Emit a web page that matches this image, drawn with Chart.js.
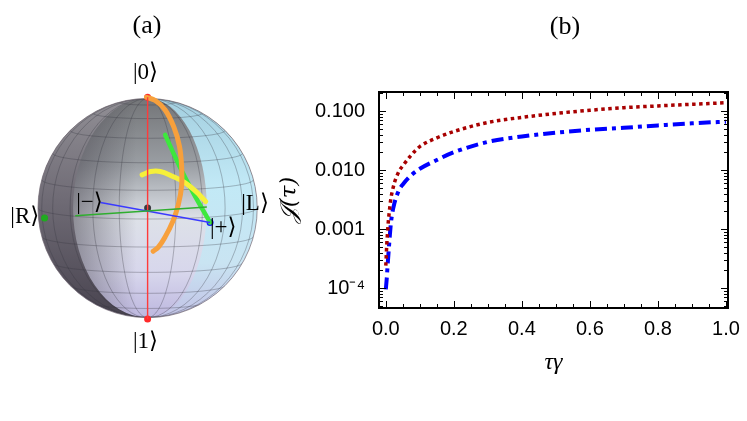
<!DOCTYPE html>
<html>
<head>
<meta charset="utf-8">
<script src="https://cdn.jsdelivr.net/npm/chart.js@4.4.1/dist/chart.umd.min.js"></script>
<style>
  html, body { margin: 0; padding: 0; background: #fff; }
  #wrap { position: relative; width: 747px; height: 421px; overflow: hidden; }
  #sphereCanvas { position: absolute; left: 0; top: 0; }
  #fisherCanvas { position: absolute; left: 270px; top: 0; }
</style>
</head>
<body>
<div id="wrap">
  <canvas id="sphereCanvas" width="270" height="421"></canvas>
  <canvas id="fisherCanvas" width="477" height="421"></canvas>
</div>
<script>
// Datos del panel (b): tiempo adimensional y las dos curvas.
var tauGamma = [0, 0.003, 0.005, 0.007, 0.01, 0.012, 0.015, 0.02, 0.025, 0.03, 0.04, 0.05,
                0.075, 0.1, 0.15, 0.2, 0.3, 0.4, 0.5, 0.6, 0.7, 0.8, 0.9, 1.0];
var fisherRed = [2.4e-4, 5.7e-4, 8.5e-4, 1.26e-3, 1.9e-3, 2.4e-3, 3.3e-3, 4.6e-3, 6.0e-3, 7.3e-3, 9.8e-3, 0.0118,
                 0.018, 0.025, 0.035, 0.045, 0.064, 0.078, 0.091, 0.103, 0.114, 0.122, 0.130, 0.138];
var fisherBlue = [9.5e-5, 1.5e-4, 2.3e-4, 3.3e-4, 5.7e-4, 8.0e-4, 1.26e-3, 2.0e-3, 2.7e-3, 3.4e-3, 4.7e-3, 5.7e-3,
                  8.2e-3, 0.0105, 0.0148, 0.020, 0.030, 0.037, 0.043, 0.048, 0.052, 0.057, 0.062, 0.066];

// Marcas de los ejes.
var xTicks = [0, 0.2, 0.4, 0.6, 0.8, 1.0];
var xTickLabels = ['0.0', '0.2', '0.4', '0.6', '0.8', '1.0'];
var yTicks = [1e-4, 1e-3, 1e-2, 1e-1];
var yTickLabels = ['10\u207B\u2074', '0.001', '0.010', '0.100'];

// Datos del panel (a): trayectorias en la esfera proyectada (radio 1).
var orangeU = [-0.01, 0.07, 0.16, 0.24, 0.29, 0.31, 0.31, 0.28, 0.23, 0.16, 0.10, 0.05];
var orangeV = [1.00, 0.97, 0.885, 0.73, 0.56, 0.38, 0.20, 0.03, -0.12, -0.26, -0.35, -0.39];
var yellowU = [-0.05, 0.03, 0.115, 0.22, 0.34, 0.44, 0.53];
var yellowV = [0.30, 0.33, 0.33, 0.29, 0.23, 0.15, 0.06];
var greenU = [0.16, 0.29, 0.42, 0.57];
var greenV = [0.66, 0.38, 0.13, -0.13];
var axisZU = [0, 0], axisZV = [1, -1];
var axisXU = [-0.43, 0.57], axisXV = [0.05, -0.13];
var axisYU = [-0.66, 0.54], axisYV = [-0.07, 0.01];
var ketNames = ['|0\u27E9', '|1\u27E9', '|R\u27E9', '|L\u27E9', '|\u2212\u27E9', '|+\u27E9'];
var ketU = [-0.02, -0.02, -1.12, 0.98, -0.53, 0.69];
var ketV = [1.22, -1.21, -0.08, 0.04, 0.05, -0.18];

function pares(us, vs) {
  return us.map(function(u, i) { return { x: u, y: vs[i] }; });
}

//Dibuja la esfera de Bloch (fondo) usando las escalas del gráfico.
var spherePlugin = {
  id: 'sphere',
  beforeDatasetsDraw: function(chart) {
    var ctx = chart.ctx;
    var sx = chart.scales.x, sy = chart.scales.y;
    var cx = sx.getPixelForValue(0), cy = sy.getPixelForValue(0);
    var R = sx.getPixelForValue(1) - cx;
    var PI = Math.PI;
    ctx.save();
    ctx.beginPath();
    ctx.arc(cx, cy, R, 0, 2 * PI);
    ctx.clip();

    // interior
    var g = ctx.createLinearGradient(0, cy - R, 0, cy + R);
    g.addColorStop(0, '#737578');
    g.addColorStop(0.3, '#9a9ea3');
    g.addColorStop(0.55, '#dde1e8');
    g.addColorStop(0.8, '#d7d6ec');
    g.addColorStop(1, '#bdb7df');
    ctx.fillStyle = g;
    ctx.fillRect(cx - R, cy - R, 2 * R, 2 * R);
    var gh = ctx.createLinearGradient(cx - 0.7 * R, 0, cx - 0.1 * R, 0);
    gh.addColorStop(0, 'rgba(60,56,66,0.5)');
    gh.addColorStop(1, 'rgba(60,56,66,0)');
    ctx.fillStyle = gh;
    ctx.fillRect(cx - R, cy - R, R, 2 * R);

    // casquete izquierdo (oscuro)
    ctx.beginPath();
    ctx.ellipse(cx, cy, R, R, 0, -PI / 2, PI / 2, true);
    ctx.ellipse(cx, cy, 0.68 * R, R, 0, PI / 2, -PI / 2, false);
    ctx.closePath();
    var gl = ctx.createLinearGradient(0, cy - R, 0, cy + R);
    gl.addColorStop(0, '#918f95');
    gl.addColorStop(0.45, '#706c76');
    gl.addColorStop(1, '#48434f');
    ctx.fillStyle = gl;
    ctx.fill();

    // casquete derecho (celeste)
    ctx.beginPath();
    ctx.ellipse(cx, cy, R, R, 0, -PI / 2, PI / 2, false);
    ctx.ellipse(cx, cy, 0.54 * R, R, 0, PI / 2, -PI / 2, true);
    ctx.closePath();
    var gr = ctx.createLinearGradient(0, cy - R, 0, cy + R);
    gr.addColorStop(0, '#a3cfe0');
    gr.addColorStop(0.4, '#c2e9f6');
    gr.addColorStop(0.75, '#c9e4f2');
    gr.addColorStop(1, '#c2c2e6');
    ctx.fillStyle = gr;
    ctx.fill();

    // malla
    ctx.strokeStyle = 'rgba(55,55,65,0.45)';
    ctx.lineWidth = 0.7;
    for (var k = 1; k < 6; k++) {
      ctx.beginPath();
      ctx.ellipse(cx, cy, R * Math.sin(k * PI / 12), R, 0, 0, 2 * PI);
      ctx.stroke();
    }
    for (var j = -5; j <= 5; j++) {
      var phi = j * PI / 12;
      var rx = R * Math.cos(phi);
      ctx.beginPath();
      ctx.ellipse(cx, cy - R * Math.sin(phi), rx, rx * 0.1, 0, 0, PI);
      ctx.stroke();
    }
    ctx.restore();

    ctx.save();
    ctx.strokeStyle = 'rgba(120,110,120,0.7)';
    ctx.lineWidth = 1;
    ctx.beginPath();
    ctx.arc(cx, cy, R, 0, 2 * PI);
    ctx.stroke();
    ctx.restore();
  },
  afterDraw: function(chart) {
    var ctx = chart.ctx;
    var sx = chart.scales.x, sy = chart.scales.y;
    ctx.save();
    ctx.fillStyle = '#000';
    ctx.textAlign = 'center';
    ctx.textBaseline = 'middle';
    ctx.font = '23px "Liberation Serif", "DejaVu Serif", serif';
    ketNames.forEach(function(name, i) {
      ctx.fillText(name, sx.getPixelForValue(ketU[i]), sy.getPixelForValue(ketV[i]));
    });
    ctx.font = '26px "Liberation Serif", serif';
    ctx.fillText('(a)', 147, 26);
    ctx.restore();
  }
};

var sphereChart = new Chart(document.getElementById('sphereCanvas').getContext('2d'), {
  type: 'scatter',
  data: {
    datasets: [
      { data: pares(axisYU, axisYV), showLine: true, borderColor: '#2fae2f', borderWidth: 1.4, pointRadius: 0 },
      { data: pares(axisXU, axisXV), showLine: true, borderColor: '#3a3aff', borderWidth: 1.4, pointRadius: 0 },
      { data: pares(axisZU, axisZV), showLine: true, borderColor: '#ff3a3a', borderWidth: 1.4, pointRadius: 0 },
      { data: pares(orangeU, orangeV), showLine: true, borderColor: '#f7a03c', borderWidth: 5, pointRadius: 0,
        tension: 0.4, borderCapStyle: 'round' },
      { data: pares(yellowU, yellowV), showLine: true, borderColor: '#f6f03a', borderWidth: 5, pointRadius: 0,
        tension: 0.4, borderCapStyle: 'round' },
      { data: pares(greenU, greenV), showLine: true, borderColor: '#3de83d', borderWidth: 4.5, pointRadius: 0,
        tension: 0.3, borderCapStyle: 'round' },
      { data: pares(axisZU, axisZV), showLine: false, pointRadius: 3.5, pointBackgroundColor: '#ff2a2a', pointBorderWidth: 0 },
      { data: pares([axisXU[1]], [axisXV[1]]), showLine: false, pointRadius: 3.5, pointBackgroundColor: '#1a1aff', pointBorderWidth: 0 },
      { data: pares([-0.94], [-0.09]), showLine: false, pointRadius: 3.5, pointBackgroundColor: '#1faa1f', pointBorderWidth: 0 },
      { data: pares([0], [0]), showLine: false, pointRadius: 3.5, pointBackgroundColor: '#3a3a3e', pointBorderWidth: 0 }
    ]
  },
  options: {
    responsive: false,
    animation: false,
    layout: { padding: 0 },
    plugins: { legend: { display: false }, tooltip: { enabled: false } },
    scales: {
      x: { type: 'linear', display: false, min: -1.31, max: 1.080 },
      y: { type: 'linear', display: false, min: -1.885, max: 1.841 }
    }
  },
  plugins: [spherePlugin]
});

//Marco y marcas hacia dentro, estilo Mathematica.
var framePlugin = {
  id: 'frame',
  afterDraw: function(chart) {
    var ctx = chart.ctx;
    var a = chart.chartArea;
    var sx = chart.scales.x, sy = chart.scales.y;
    ctx.save();
    ctx.strokeStyle = '#000';
    ctx.lineWidth = 1;
    function tickX(v, len) {
      var px = Math.round(sx.getPixelForValue(v)) + 0.5;
      ctx.beginPath();
      ctx.moveTo(px, a.bottom); ctx.lineTo(px, a.bottom - len);
      ctx.moveTo(px, a.top); ctx.lineTo(px, a.top + len);
      ctx.stroke();
    }
    function tickY(v, len) {
      var py = Math.round(sy.getPixelForValue(v)) + 0.5;
      ctx.beginPath();
      ctx.moveTo(a.left, py); ctx.lineTo(a.left + len, py);
      ctx.moveTo(a.right, py); ctx.lineTo(a.right - len, py);
      ctx.stroke();
    }
    for (var i = 0; i <= 20; i++) {
      var v = i * 0.05;
      tickX(v, i % 4 === 0 ? 7 : 4);
    }
    for (var d = -5; d <= -1; d++) {
      for (var m = 1; m <= 9; m++) {
        var y = m * Math.pow(10, d);
        if (y < sy.min || y > sy.max) continue;
        tickY(y, m === 1 ? 7 : 4);
      }
    }
    ctx.lineWidth = 2;
    ctx.strokeRect(a.left, a.top, a.right - a.left, a.bottom - a.top);
    ctx.fillStyle = '#000';
    ctx.textAlign = 'center';
    ctx.textBaseline = 'middle';
    ctx.font = '26px "Liberation Serif", serif';
    ctx.fillText('(b)', 565 - 270, 27);
    // titulo del eje vertical
    ctx.translate(290 - 270, (a.top + a.bottom) / 2);
    ctx.rotate(-Math.PI / 2);
    ctx.font = 'italic 23px "DejaVu Serif", "Liberation Serif", serif';
    ctx.fillText('\uD835\uDCA5(\u03C4)', 0, 0);
    ctx.restore();
  }
};

var fisherChart = new Chart(document.getElementById('fisherCanvas').getContext('2d'), {
  type: 'line',
  data: {
    datasets: [
      {
        data: pares(tauGamma, fisherRed),
        borderColor: '#a80000',
        borderWidth: 3.5,
        borderDash: [3.5, 3.5],
        pointRadius: 0,
        cubicInterpolationMode: 'monotone'
      },
      {
        data: pares(tauGamma, fisherBlue),
        borderColor: '#0000ff',
        borderWidth: 4,
        borderDash: [12, 5, 4, 5],
        pointRadius: 0,
        cubicInterpolationMode: 'monotone'
      }
    ]
  },
  options: {
    responsive: false,
    animation: false,
    layout: { padding: { left: 0, top: 92, right: 19, bottom: 40 } },
    plugins: { legend: { display: false }, tooltip: { enabled: false } },
    scales: {
      x: {
        type: 'linear',
        min: -0.02,
        max: 1.006,
        grid: { display: false },
        border: { display: false },
        afterBuildTicks: function(scale) {
          scale.ticks = xTicks.map(function(v) { return { value: v }; });
        },
        afterFit: function(scale) { scale.height = 73; },
        ticks: {
          padding: 1,
          color: '#000',
          font: { family: '"Liberation Sans", Arial, sans-serif', size: 20 },
          callback: function(v) { return xTickLabels[xTicks.indexOf(v)]; }
        },
        title: {
          display: true,
          text: '\u03C4\u03B3',
          color: '#000',
          font: { family: '"Liberation Serif", "DejaVu Serif", serif', size: 24, style: 'italic' }
        }
      },
      y: {
        type: 'logarithmic',
        min: 4.6e-5,
        max: 0.21,
        grid: { display: false },
        border: { display: false },
        afterBuildTicks: function(scale) {
          scale.ticks = yTicks.map(function(v) { return { value: v }; });
        },
        afterFit: function(scale) { scale.width = 109; },
        ticks: {
          padding: 6,
          color: '#000',
          font: { family: '"Liberation Sans", Arial, sans-serif', size: 20 },
          callback: function(v) {
            for (var i = 0; i < yTicks.length; i++) {
              if (Math.abs(Math.log10(v) - Math.log10(yTicks[i])) < 1e-6) return yTickLabels[i];
            }
            return '';
          }
        }
      }
    }
  },
  plugins: [framePlugin]
});
</script>
</body>
</html>
